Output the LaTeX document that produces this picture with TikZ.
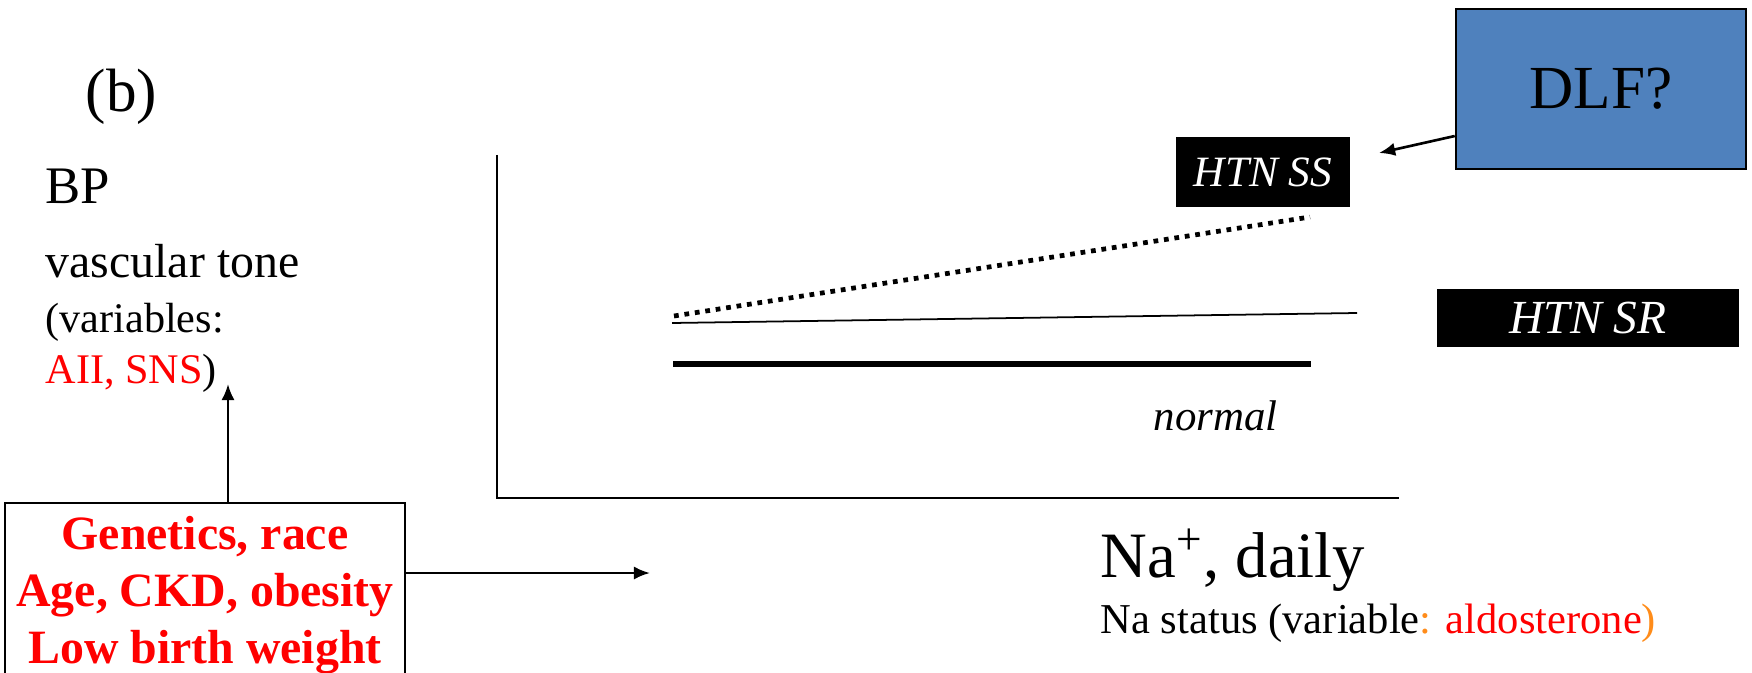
\documentclass[tikz,border=0pt]{standalone}
\usepackage{fontspec}
\setmainfont{Liberation Serif}
\usetikzlibrary{arrows.meta}

\definecolor{dlfblue}{HTML}{4F81BD}
\definecolor{varorange}{HTML}{FF8C1A}

\begin{document}
\begin{tikzpicture}[x=0.01cm,y=-0.01cm]
\tikzset{
    txt/.style={anchor=base west, inner sep=0pt},
    htn/.style={fill=black, text=white, font=\itshape, inner sep=0pt},
    arr/.style={line width=0.75pt, -{Latex[length=4.6pt,width=3.8pt]}}
}
\clip (0,0) rectangle (1752,673);

% --- labels ---
\node[txt, font=\fontsize{17.4}{20}\selectfont] (tag) at (85,112) {(b)};
\node[txt, font=\fontsize{15}{18}\selectfont] (bp) at (45,203) {BP};
\node[txt, font=\fontsize{13.6}{16}\selectfont] (tone) at (45,277) {vascular tone};
\node[txt, font=\fontsize{12}{14}\selectfont] (vars) at (45,332) {(variables:};
\node[txt, font=\fontsize{12}{14}\selectfont] (varsred) at (45,383) {\textcolor{red}{AII, SNS})};
\node[txt, font=\fontsize{18.4}{22}\selectfont] (na) at (1100,577) {Na\textsuperscript{+}, daily};
\node[txt, font=\fontsize{12.1}{14}\selectfont] (nastatus) at (1100,633)
    {Na status (variable\textcolor{varorange}{:} \textcolor{red}{aldosterone}\textcolor{varorange}{)}};
\node[txt, font=\fontsize{12.2}{14}\selectfont\itshape] (normal) at (1153,430) {normal};

% --- boxes ---
\node[draw, line width=0.6pt, anchor=north, minimum width=4cm, inner xsep=0pt, inner ysep=3.7pt,
    align=center, text=red, font=\fontsize{13.6}{16.2}\selectfont\bfseries] (fac) at (205,502)
    {Genetics, race\\Age, CKD, obesity\\Low birth weight};
\node[draw, line width=0.7pt, fill=dlfblue, minimum width=2.9cm, minimum height=1.6cm,
    font=\fontsize{17.4}{20}\selectfont] (dlf) at (1601,89) {DLF?};
\node[htn, minimum width=1.74cm, minimum height=0.7cm, font=\fontsize{12.3}{14}\selectfont\itshape] (htnss) at (1263,172) {HTN SS};
\node[htn, minimum width=3.02cm, minimum height=0.57cm, font=\fontsize{13.5}{16}\selectfont\itshape] (htnsr) at (1588,318) {HTN SR};

% --- axes ---
\coordinate (ytop) at (497,155);
\coordinate (origin) at (497,498);
\coordinate (xend) at (1399,498);
\draw[line width=0.7pt] (ytop) -- (origin) -- (xend);

% --- curves ---
\coordinate (ss1) at (674,316);
\coordinate (ss2) at (1310,217);
\coordinate (sr1) at (672,323);
\coordinate (sr2) at (1357,313);
\coordinate (nm1) at (673,364);
\coordinate (nm2) at (1311,364);
\draw[line width=1.35pt, dash pattern=on 1.35pt off 1.65pt] (ss1) -- (ss2);
\draw[line width=0.5pt] (sr1) -- (sr2);
\draw[line width=1.7pt] (nm1) -- (nm2);

% --- arrows ---
\coordinate (vt) at (228,384);
\coordinate (hz) at (650,573);
\coordinate (sstip) at (1379,153);
\draw[arr] (fac.north -| vt) -- (vt);
\draw[arr] (fac.east |- hz) -- (hz);
\draw[arr] ([yshift=-0.47cm]dlf.west) -- (sstip);
\end{tikzpicture}
\end{document}
